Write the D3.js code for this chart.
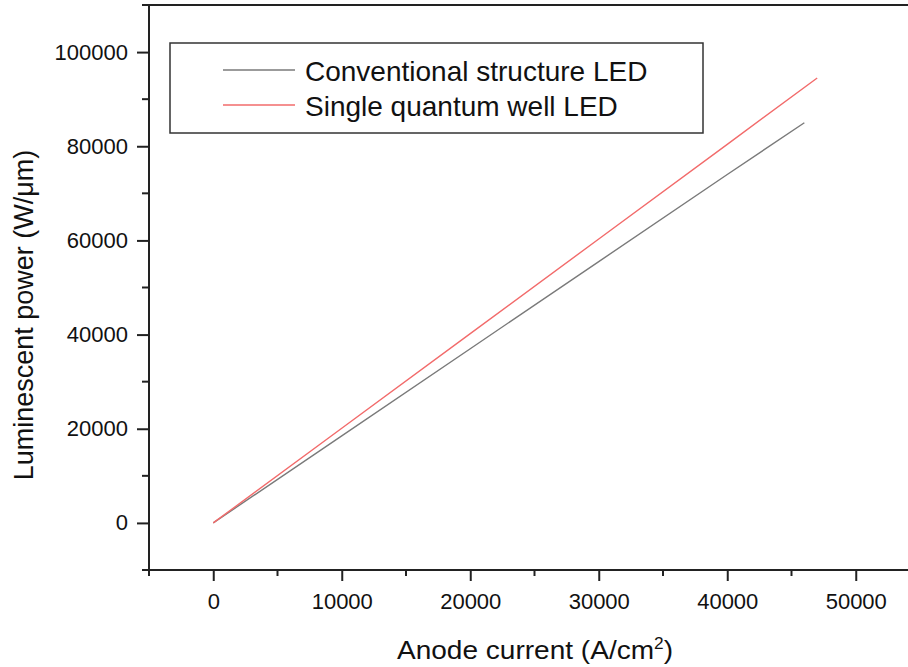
<!DOCTYPE html>
<html>
<head>
<meta charset="utf-8">
<script src="https://cdn.jsdelivr.net/npm/d3@7"></script>
<style>
  body { margin: 0; background: #fff; }
  svg { display: block; font-family: "Liberation Sans", Arial, sans-serif; }
</style>
</head>
<body>
<svg width="908" height="667"></svg>
<script>
// values
const convCurrent = [0, 10000, 20000, 30000, 40000, 46000];
const convPower = [0, 18500, 37000, 55500, 74000, 85000];
const sqwCurrent = [0, 10000, 20000, 30000, 40000, 47000];
const sqwPower = [0, 20100, 40200, 60300, 80400, 94500];
const xTicks = [0, 10000, 20000, 30000, 40000, 50000];
const yTicks = [0, 20000, 40000, 60000, 80000, 100000];
const seriesNames = ['Conventional structure LED', 'Single quantum well LED'];
const seriesColors = ['#7a7a7a', '#f26b6b'];

const svg = d3.select('svg');
const plotL = 149, plotR = 920, plotT = 5, plotB = 570;

const x = d3.scaleLinear().domain([-5000, 55000]).range([plotL, plotR]);
const y = d3.scaleLinear().domain([-10000, 110000]).range([plotB, plotT]);

const axisColor = '#222';

// frame
svg.append('rect')
  .attr('x', plotL).attr('y', plotT)
  .attr('width', plotR - plotL).attr('height', plotB - plotT)
  .attr('fill', 'none').attr('stroke', axisColor).attr('stroke-width', 2);

// minor ticks
const xMinor = d3.range(-5000, 55001, 10000);
const yMinor = d3.range(-10000, 110001, 20000);

const gx = svg.append('g').attr('transform', `translate(0,${plotB})`);
gx.selectAll('.minor').data(xMinor).enter().append('line')
  .attr('x1', d => x(d)).attr('x2', d => x(d))
  .attr('y1', 0).attr('y2', 6)
  .attr('stroke', axisColor).attr('stroke-width', 2);
gx.call(d3.axisBottom(x).tickValues(xTicks).tickSize(11).tickPadding(12).tickFormat(d3.format('d')))
  .call(g => g.select('.domain').remove())
  .call(g => g.selectAll('.tick line').attr('stroke', axisColor).attr('stroke-width', 2))
  .call(g => g.selectAll('.tick text').attr('font-size', 22).attr('fill', '#111')
    .attr('font-family', '"Liberation Sans", Arial, sans-serif'));

const gy = svg.append('g').attr('transform', `translate(${plotL},0)`);
gy.selectAll('.minor').data(yMinor).enter().append('line')
  .attr('x1', 0).attr('x2', -7)
  .attr('y1', d => y(d)).attr('y2', d => y(d))
  .attr('stroke', axisColor).attr('stroke-width', 2);
gy.call(d3.axisLeft(y).tickValues(yTicks).tickSize(12).tickPadding(9).tickFormat(d3.format('d')))
  .call(g => g.select('.domain').remove())
  .call(g => g.selectAll('.tick line').attr('stroke', axisColor).attr('stroke-width', 2))
  .call(g => g.selectAll('.tick text').attr('font-size', 22).attr('fill', '#111')
    .attr('font-family', '"Liberation Sans", Arial, sans-serif'));

// axis titles
svg.append('text')
  .attr('x', 535).attr('y', 659)
  .attr('text-anchor', 'middle')
  .attr('font-size', 26).attr('fill', '#111')
  .attr('textLength', 276).attr('lengthAdjust', 'spacingAndGlyphs')
  .html('Anode current (A/cm<tspan dy="-10" font-size="16">2</tspan><tspan dy="10">)</tspan>');

svg.append('text')
  .attr('transform', 'translate(33,315) rotate(-90)')
  .attr('text-anchor', 'middle')
  .attr('font-size', 27).attr('fill', '#111')
  .text('Luminescent power (W/μm)');

// lines
const line = d3.line().x(d => x(d[0])).y(d => y(d[1]));
const series = [
  d3.zip(convCurrent, convPower),
  d3.zip(sqwCurrent, sqwPower)
];
svg.selectAll('.series').data(series).enter().append('path')
  .attr('class', 'series')
  .attr('d', line)
  .attr('fill', 'none')
  .attr('stroke', (d, i) => seriesColors[i])
  .attr('stroke-width', 1.4);

// legend
const legend = svg.append('g');
legend.append('rect')
  .attr('x', 170).attr('y', 43).attr('width', 533).attr('height', 90)
  .attr('fill', '#fff').attr('stroke', '#333').attr('stroke-width', 1.5);
const items = legend.selectAll('.item').data(seriesNames).enter().append('g')
  .attr('transform', (d, i) => `translate(0,${70 + i * 35})`);
items.append('line')
  .attr('x1', 223).attr('x2', 295)
  .attr('stroke', (d, i) => seriesColors[i]).attr('stroke-width', 1.4);
items.append('text')
  .attr('x', 305).attr('y', 11)
  .attr('font-size', 28).attr('fill', '#111')
  .text(d => d);
</script>
</body>
</html>
